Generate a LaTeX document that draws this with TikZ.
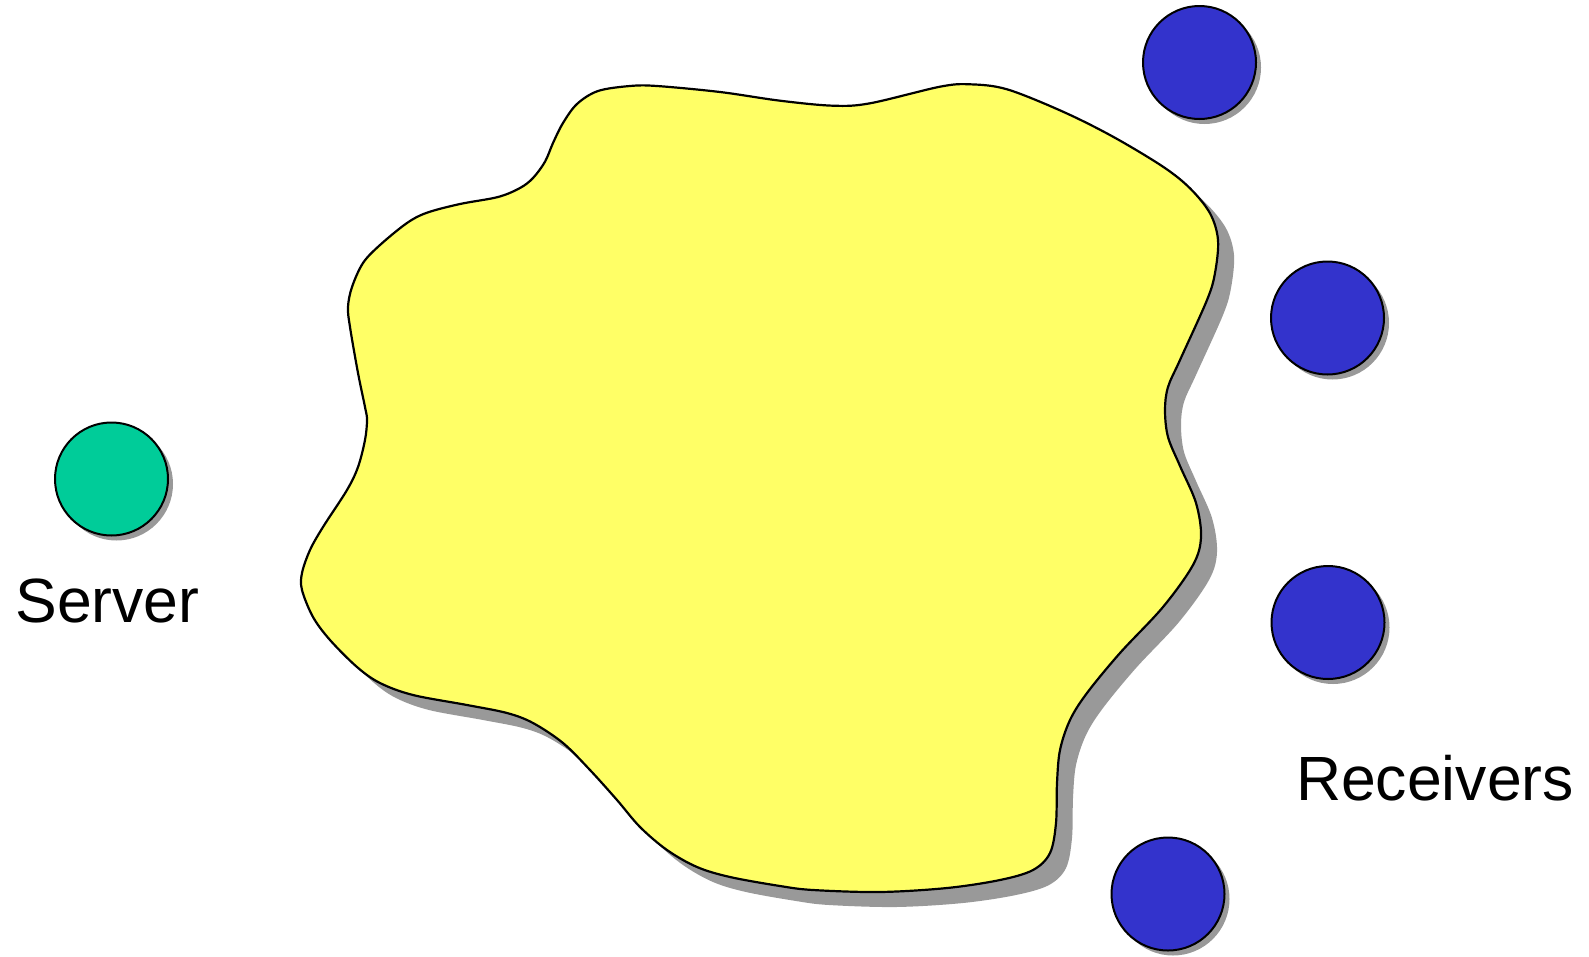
\documentclass[tikz,border=0pt]{standalone}
\usepackage{fontspec}
\setmainfont{Liberation Sans}
\usetikzlibrary{shadows}
\definecolor{cloudyellow}{HTML}{FFFF66}
\definecolor{shadowgray}{HTML}{999999}
\definecolor{servergreen}{HTML}{00CC99}
\definecolor{recvblue}{HTML}{3333CC}
\newcommand{\cloudpts}{(630,86) (657,86) (720,92) (780,100.7) (833,105.7) (870,103.3) (940,86.7) (970,84.3) (1007,89.3) (1063,111.7) (1113,136.7) (1163,166.7) (1190,188.3) (1210,213.3) (1218,240) (1215,273) (1207,300) (1180,360) (1168,387) (1165,410) (1168,437) (1180,466) (1196,503) (1201,537) (1193,565) (1163,607) (1120,653) (1087,693) (1070,720) (1060,750) (1057,783) (1056,823) (1050,853) (1033,870) (1000,880) (947,888) (880,892) (813,890) (780,886) (730,877) (697,867) (667,850) (640,827) (617,800) (590,770) (563,743) (533,723) (507,713) (467,705) (413,695) (380,683) (357,667) (330,640) (313,617) (302,590) (302,573) (310,550) (323,527) (347,490) (358,467) (365,440) (367,420) (365,407) (358,373) (350,327) (348,307) (352,287) (363,263) (380,245) (407,223) (427,212.7) (460,204) (498,197) (520,188) (533,178) (545,161.7) (553,143) (563,123) (577,104) (598,91)}
\tikzset{
  host/.style={circle, draw=black, line width=2pt, minimum size=113pt, inner sep=0pt,
    drop shadow={shadow xshift=5pt, shadow yshift=-5pt, fill=shadowgray, opacity=1}},
  label text/.style={font=\fontsize{62.5}{70}\selectfont, inner sep=0pt, anchor=base}
}
\begin{document}
\begin{tikzpicture}[x=1pt, y=-1pt]
\useasboundingbox (0,0) rectangle (1589,956);
% cloud shadow
\fill[shadowgray, shift={(16,15)}] plot[smooth cycle, tension=0.55] coordinates {\cloudpts};
% cloud
\draw[fill=cloudyellow, line width=2.2pt, line join=round] plot[smooth cycle, tension=0.55] coordinates {\cloudpts};
% hosts
\node[host, fill=servergreen] (server) at (111.5,479) {};
\node[host, fill=recvblue] (r1) at (1199.5,62.5) {};
\node[host, fill=recvblue] (r2) at (1327.5,318) {};
\node[host, fill=recvblue] (r3) at (1328,622.5) {};
\node[host, fill=recvblue] (r4) at (1168,894) {};
% labels
\node[label text] (serverlbl) at (107.5,622) {Server};
\node[label text] (recvlbl) at (1435,800) {Receivers};
\end{tikzpicture}
\end{document}
